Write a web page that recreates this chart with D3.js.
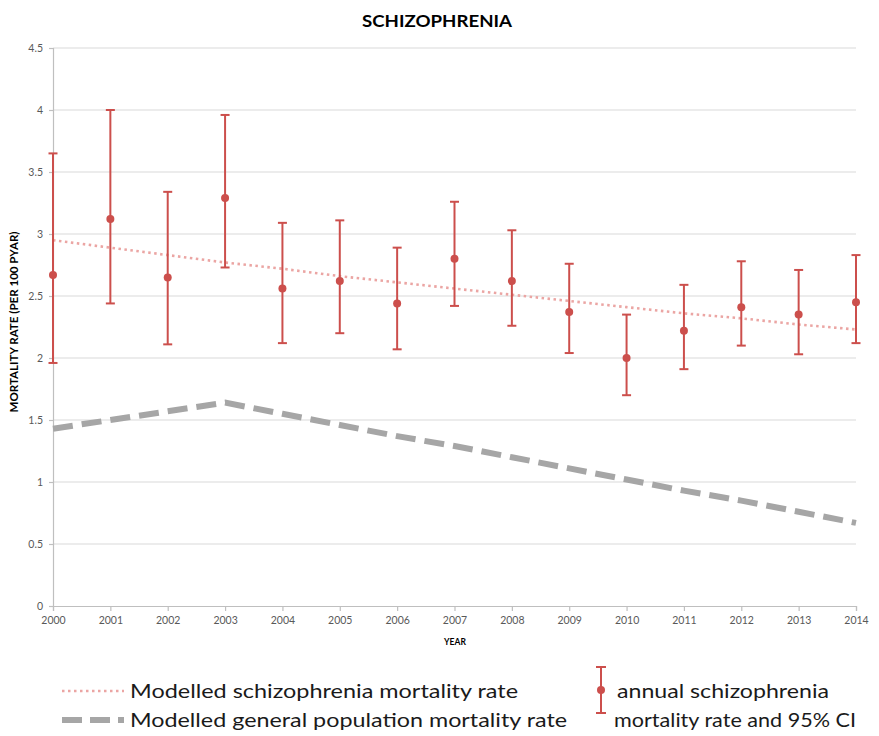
<!DOCTYPE html>
<html><head><meta charset="utf-8">
<script src="https://cdn.jsdelivr.net/npm/d3@7"></script>
<style>body{margin:0;background:#fff}svg{display:block}</style>
</head><body>
<script>
const years = [2000,2001,2002,2003,2004,2005,2006,2007,2008,2009,2010,2011,2012,2013,2014];
const annualRate = [2.67,3.12,2.65,3.29,2.56,2.62,2.44,2.80,2.62,2.37,2.00,2.22,2.41,2.35,2.45];
const ciUpper = [3.65,4.00,3.34,3.96,3.09,3.11,2.89,3.26,3.03,2.76,2.35,2.59,2.78,2.71,2.83];
const ciLower = [1.96,2.44,2.11,2.73,2.12,2.20,2.07,2.42,2.26,2.04,1.70,1.91,2.10,2.03,2.12];
const modelledSchiz = [2.95,2.89,2.83,2.77,2.72,2.66,2.61,2.56,2.51,2.46,2.41,2.36,2.32,2.27,2.23];
const modelledGeneral = [1.43,1.50,1.57,1.64,1.55,1.46,1.37,1.29,1.20,1.11,1.02,0.93,0.85,0.76,0.67];
const yTicks = [0,0.5,1,1.5,2,2.5,3,3.5,4,4.5];

const W=879,H=736;
const svg=d3.select("body").append("svg").attr("width",W).attr("height",H);
const x=d3.scaleLinear().domain([2000,2014]).range([53,856]);
const y=d3.scaleLinear().domain([0,4.5]).range([606,48]);
const font="Lato, 'Open Sans', sans-serif";

// grid
svg.append("g").selectAll("line").data(yTicks.filter(d=>d>0)).join("line")
  .attr("x1",53).attr("x2",856).attr("y1",d=>y(d)).attr("y2",d=>y(d))
  .attr("stroke","#d9d9d9").attr("stroke-width",1.2);

// axes
const yAxis=svg.append("g").attr("transform","translate(53,0)")
  .call(d3.axisLeft(y).tickValues(yTicks).tickSize(4).tickPadding(6).tickFormat(d=>d));
const xAxis=svg.append("g").attr("transform","translate(0,606)")
  .call(d3.axisBottom(x).tickValues(years).tickSize(5).tickPadding(6).tickFormat(d3.format("d")));
[yAxis,xAxis].forEach(a=>{
  a.select(".domain").attr("stroke","#bfbfbf").attr("stroke-width",1.2);
  a.selectAll(".tick line").attr("stroke","#bfbfbf").attr("stroke-width",1.2);
  a.selectAll("text").attr("fill","#595959").style("font-family",font).style("font-size","10.5px");
});

// general population dashed
const line=d3.line().x((d,i)=>x(years[i])).y(d=>y(d));
svg.append("path").datum(modelledGeneral).attr("d",line).attr("fill","none")
  .attr("stroke","#a6a6a6").attr("stroke-width",6).attr("stroke-dasharray","20,9");
// schizophrenia dotted
svg.append("path").datum(modelledSchiz).attr("d",line).attr("fill","none")
  .attr("stroke","#eba5a3").attr("stroke-width",2.6).attr("stroke-dasharray","2.5,3.5");

// error bars
const red="#cc4f4c";
const eb=svg.append("g");
years.forEach((yr,i)=>{
  const cx=x(yr);
  eb.append("line").attr("x1",cx).attr("x2",cx).attr("y1",y(ciUpper[i])).attr("y2",y(ciLower[i]))
    .attr("stroke",red).attr("stroke-width",2);
  [ciUpper[i],ciLower[i]].forEach(v=>eb.append("line").attr("x1",cx-4.5).attr("x2",cx+4.5)
    .attr("y1",y(v)).attr("y2",y(v)).attr("stroke",red).attr("stroke-width",2));
  eb.append("circle").attr("cx",cx).attr("cy",y(annualRate[i])).attr("r",4).attr("fill",red);
});

// title & axis labels
svg.append("text").attr("x",437).attr("y",27).attr("text-anchor","middle")
  .attr("textLength",150).attr("lengthAdjust","spacingAndGlyphs")
  .style("font-family",font).style("font-weight","bold").style("font-size","17px").text("SCHIZOPHRENIA");
svg.append("text").attr("transform","translate(18,322) rotate(-90)").attr("text-anchor","middle")
  .attr("textLength",181).attr("lengthAdjust","spacingAndGlyphs")
  .style("font-family",font).style("font-weight","bold").style("font-size","10.5px").text("MORTALITY RATE (PER 100 PYAR)");
svg.append("text").attr("x",455).attr("y",645).attr("text-anchor","middle")
  .style("font-family",font).style("font-weight","bold").style("font-size","8.5px").text("YEAR");

// legend
const lg=svg.append("g");
lg.append("line").attr("x1",62).attr("x2",124).attr("y1",691).attr("y2",691)
  .attr("stroke","#eba5a3").attr("stroke-width",2.6).attr("stroke-dasharray","2.5,3.5");
lg.append("line").attr("x1",62).attr("x2",124).attr("y1",720).attr("y2",720)
  .attr("stroke","#a6a6a6").attr("stroke-width",6).attr("stroke-dasharray","20,8");
const lt=(tx,ty,s,len)=>lg.append("text").attr("x",tx).attr("y",ty).attr("textLength",len)
  .attr("lengthAdjust","spacingAndGlyphs").style("font-family",font).style("font-size","20px")
  .attr("fill","#1a1a1a").text(s);
lt(130,698,"Modelled schizophrenia mortality rate",388);
lt(130,727,"Modelled general  population mortality rate",437);
lt(617,698,"annual schizophrenia",212);
lt(614,727,"mortality rate and 95% CI",242);
lg.append("line").attr("x1",601).attr("x2",601).attr("y1",667).attr("y2",713).attr("stroke",red).attr("stroke-width",2);
[667,713].forEach(v=>lg.append("line").attr("x1",596).attr("x2",606).attr("y1",v).attr("y2",v).attr("stroke",red).attr("stroke-width",2));
lg.append("circle").attr("cx",601).attr("cy",690).attr("r",4).attr("fill",red);
</script>
</body></html>
